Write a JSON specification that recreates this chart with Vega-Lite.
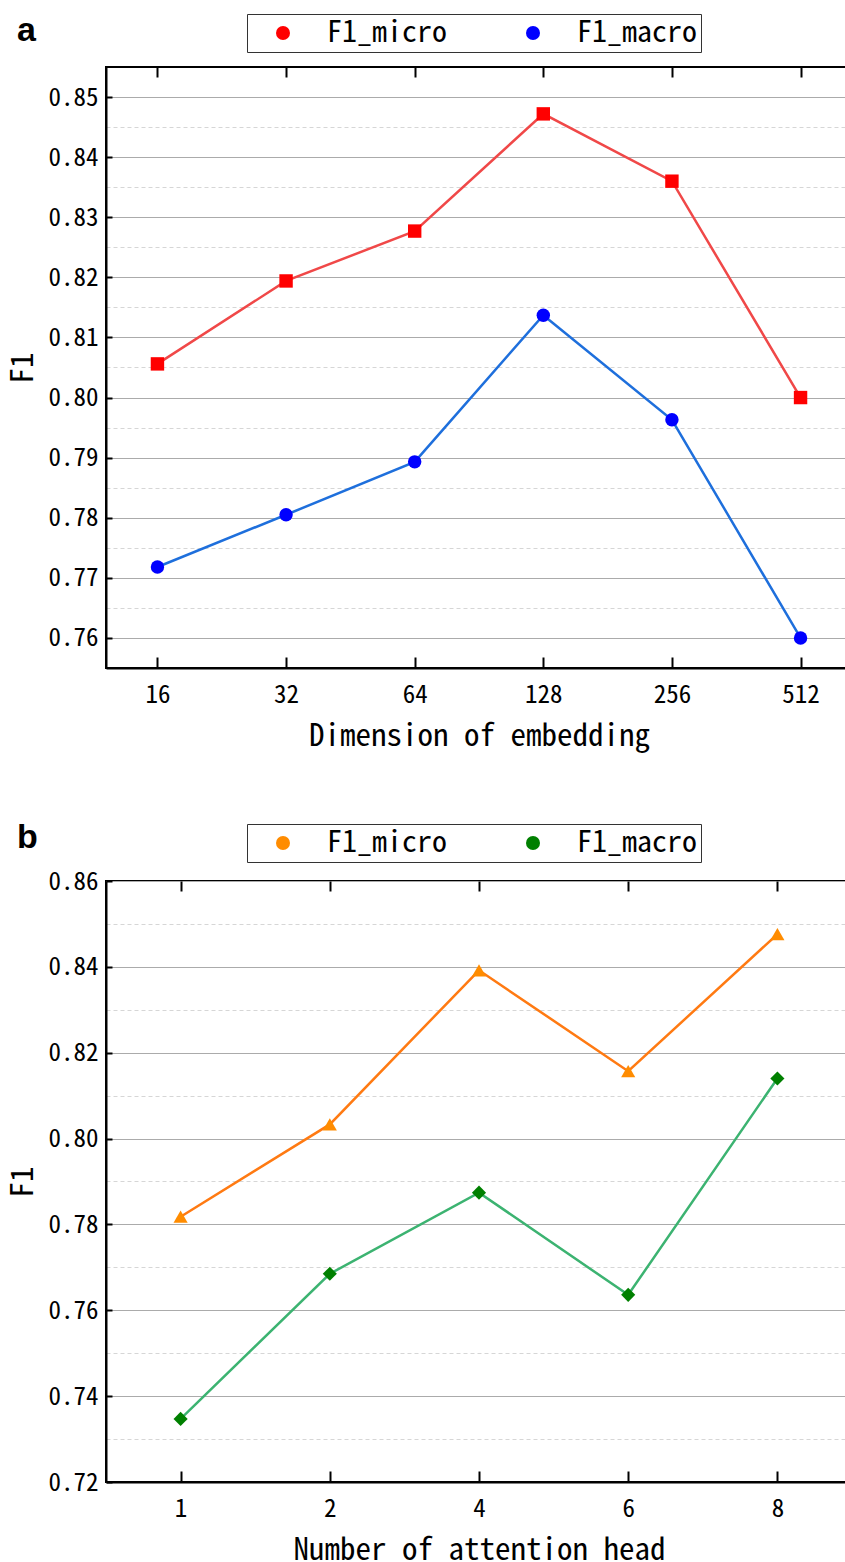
{
  "$schema": "https://vega.github.io/schema/vega-lite/v6.json",
  "padding": {"top": 12, "left": 6, "right": 0, "bottom": 0},
  "background": "white",
  "config": {
    "view": {"stroke": "black", "strokeWidth": 2},
    "font": "Noto Sans Mono CJK SC, Liberation Mono",
    "axis": {"labelFont": "Noto Sans Mono CJK SC, Liberation Mono", "titleFont": "Noto Sans Mono CJK SC, Liberation Mono", "labelColor": "black", "titleColor": "black", "titleFontWeight": "normal", "domainColor": "black", "domainWidth": 2, "tickColor": "black", "tickWidth": 2}
  },
  "datasets": {
    "a": [
      {"x": "16", "series": "F1_micro", "f1": 0.8056}, {"x": "32", "series": "F1_micro", "f1": 0.8194},
      {"x": "64", "series": "F1_micro", "f1": 0.8277}, {"x": "128", "series": "F1_micro", "f1": 0.8472},
      {"x": "256", "series": "F1_micro", "f1": 0.836}, {"x": "512", "series": "F1_micro", "f1": 0.8},
      {"x": "16", "series": "F1_macro", "f1": 0.7718}, {"x": "32", "series": "F1_macro", "f1": 0.7805},
      {"x": "64", "series": "F1_macro", "f1": 0.7893}, {"x": "128", "series": "F1_macro", "f1": 0.8137},
      {"x": "256", "series": "F1_macro", "f1": 0.7963}, {"x": "512", "series": "F1_macro", "f1": 0.76}
    ],
    "b": [
      {"x": "1", "series": "F1_micro", "f1": 0.7818}, {"x": "2", "series": "F1_micro", "f1": 0.8033},
      {"x": "4", "series": "F1_micro", "f1": 0.8392}, {"x": "6", "series": "F1_micro", "f1": 0.8157},
      {"x": "8", "series": "F1_micro", "f1": 0.8476},
      {"x": "1", "series": "F1_macro", "f1": 0.7347}, {"x": "2", "series": "F1_macro", "f1": 0.7685},
      {"x": "4", "series": "F1_macro", "f1": 0.7874}, {"x": "6", "series": "F1_macro", "f1": 0.7636},
      {"x": "8", "series": "F1_macro", "f1": 0.814}
    ]
  },
  "spacing": 67,
  "resolve": {"scale": {"color": "independent", "fill": "independent", "shape": "independent"}},
  "vconcat": [
    {
      "width": 746,
      "height": 601,
      "data": {"name": "a"},
      "title": {"text": "a", "anchor": "start", "frame": "group", "dx": -89, "offset": -61, "baseline": "alphabetic", "font": "Liberation Sans", "fontWeight": "bold", "fontSize": 34, "color": "black"},
      "encoding": {
        "y": {"field": "f1", "type": "quantitative", "scale": {"domain": [0.755, 0.855], "nice": false, "zero": false},
          "axis": {"title": "F1", "titleFontSize": 31, "titlePadding": 8, "labelFontSize": 25, "format": ".2f", "tickSize": -6, "labelPadding": 14,
            "values": [0.76, 0.765, 0.77, 0.775, 0.78, 0.785, 0.79, 0.795, 0.8, 0.805, 0.81, 0.815, 0.82, 0.825, 0.83, 0.835, 0.84, 0.845, 0.85],
            "labelExpr": "round(datum.value*1000) % 10 == 5 ? '' : datum.label",
            "grid": true,
            "gridColor": {"condition": {"test": "round(datum.value*1000) % 10 == 5", "value": "#d6d6d6"}, "value": "#ababab"},
            "gridDash": {"condition": {"test": "round(datum.value*1000) % 10 == 5", "value": [4, 3]}, "value": []},
            "tickOpacity": {"condition": {"test": "round(datum.value*1000) % 10 == 5", "value": 0}, "value": 1}}}
      },
      "layer": [
        {
          "mark": {"type": "line", "strokeWidth": 2.5},
          "encoding": {
            "x": {"field": "x", "type": "ordinal", "sort": ["16", "32", "64", "128", "256", "512"], "scale": {"type": "point", "padding": 0.4},
              "axis": {"orient": "bottom", "labelAngle": 0, "labelFontSize": 25, "tickSize": -11, "labelPadding": 25, "title": "Dimension of embedding", "titleFontSize": 31, "titlePadding": 14, "grid": false}},
            "color": {"field": "series", "type": "nominal", "sort": ["F1_micro", "F1_macro"], "scale": {"range": ["#f04848", "#1e6fdc"]}, "legend": null}
          }
        },
        {
          "mark": {"type": "point", "filled": true, "size": 180, "opacity": 1},
          "encoding": {
            "x": {"field": "x", "type": "ordinal", "sort": ["16", "32", "64", "128", "256", "512"],
              "axis": {"orient": "top", "labels": false, "domain": false, "tickSize": -10, "title": null, "grid": false}},
            "fill": {"field": "series", "type": "nominal", "scale": {"domain": ["F1_micro", "F1_macro"], "range": ["#ff0000", "#0000ff"]},
              "legend": {"orient": "none", "legendX": 141, "legendY": -53, "direction": "horizontal", "title": null,
                "strokeColor": "#333333", "padding": 4, "labelFont": "Noto Sans Mono CJK SC, Liberation Mono", "labelFontSize": 30, "labelColor": "black",
                "symbolSize": 196, "symbolOffset": 17, "labelOffset": 29, "columnPadding": 54,
                "encode": {"symbols": {
                  "shape": {"value": {"expr": "datum.value === 'F1_micro' ? 'M-4.7,0 L4.7,0 M-1,-1 L1,-1 L1,1 L-1,1 Z' : 'M-4.7,0 L4.7,0 M1,0 C1,0.552 0.552,1 0,1 C-0.552,1 -1,0.552 -1,0 C-1,-0.552 -0.552,-1 0,-1 C0.552,-1 1,-0.552 1,0 Z'"}},
                  "stroke": {"value": {"expr": "datum.value === 'F1_micro' ? '#f04848' : '#1e6fdc'"}},
                  "strokeWidth": {"value": 2.5},
                  "opacity": {"value": 1}
                }}}},
            "shape": {"field": "series", "type": "nominal", "sort": ["F1_micro", "F1_macro"], "scale": {"range": ["square", "circle"]}, "legend": null}
          }
        }
      ],
      "resolve": {"axis": {"x": "independent"}}
    },
    {
      "width": 746,
      "height": 601,
      "data": {"name": "b"},
      "title": {"text": "b", "anchor": "start", "frame": "group", "dx": -89, "offset": -58, "baseline": "alphabetic", "font": "Liberation Sans", "fontWeight": "bold", "fontSize": 34, "color": "black"},
      "encoding": {
        "y": {"field": "f1", "type": "quantitative", "scale": {"domain": [0.72, 0.86], "nice": false, "zero": false},
          "axis": {"title": "F1", "titleFontSize": 31, "titlePadding": 8, "labelFontSize": 25, "format": ".2f", "tickSize": -6, "labelPadding": 14,
            "values": [0.72, 0.73, 0.74, 0.75, 0.76, 0.77, 0.78, 0.79, 0.8, 0.81, 0.82, 0.83, 0.84, 0.85, 0.86],
            "labelExpr": "round(datum.value*100) % 2 == 1 ? '' : datum.label",
            "grid": true,
            "gridColor": {"condition": {"test": "round(datum.value*100) % 2 == 1", "value": "#d6d6d6"}, "value": "#ababab"},
            "gridDash": {"condition": {"test": "round(datum.value*100) % 2 == 1", "value": [4, 3]}, "value": []},
            "tickOpacity": {"condition": {"test": "round(datum.value*100) % 2 == 1", "value": 0}, "value": 1}}}
      },
      "layer": [
        {
          "mark": {"type": "line", "strokeWidth": 2.5},
          "encoding": {
            "x": {"field": "x", "type": "ordinal", "sort": ["1", "2", "4", "6", "8"], "scale": {"type": "point", "padding": 0.5},
              "axis": {"orient": "bottom", "labelAngle": 0, "labelFontSize": 25, "tickSize": -11, "labelPadding": 25, "title": "Number of attention head", "titleFontSize": 31, "titlePadding": 14, "grid": false}},
            "color": {"field": "series", "type": "nominal", "sort": ["F1_micro", "F1_macro"], "scale": {"range": ["#ff7a12", "#3cb371"]}, "legend": null}
          }
        },
        {
          "mark": {"type": "point", "filled": true, "size": 200, "opacity": 1},
          "encoding": {
            "x": {"field": "x", "type": "ordinal", "sort": ["1", "2", "4", "6", "8"],
              "axis": {"orient": "top", "labels": false, "domain": false, "tickSize": -10, "title": null, "grid": false}},
            "fill": {"field": "series", "type": "nominal", "scale": {"domain": ["F1_micro", "F1_macro"], "range": ["#ff8c00", "#008000"]},
              "legend": {"orient": "none", "legendX": 141, "legendY": -57, "direction": "horizontal", "title": null,
                "strokeColor": "#333333", "padding": 4, "labelFont": "Noto Sans Mono CJK SC, Liberation Mono", "labelFontSize": 30, "labelColor": "black",
                "symbolSize": 196, "symbolOffset": 17, "labelOffset": 29, "columnPadding": 54,
                "encode": {"symbols": {
                  "shape": {"value": {"expr": "datum.value === 'F1_micro' ? 'M-4.7,0.2 L4.7,0.2 M0,-1.1 L1.1,0.8 L-1.1,0.8 Z' : 'M-4.7,0 L4.7,0 M0,-1.35 L0.95,0 L0,1.35 L-0.95,0 Z'"}},
                  "stroke": {"value": {"expr": "datum.value === 'F1_micro' ? '#ff7a12' : '#3cb371'"}},
                  "strokeWidth": {"value": 2.5},
                  "opacity": {"value": 1}
                }}}},
            "shape": {"field": "series", "type": "nominal", "sort": ["F1_micro", "F1_macro"], "scale": {"range": ["triangle-up", "diamond"]}, "legend": null}
          }
        }
      ],
      "resolve": {"axis": {"x": "independent"}}
    }
  ]
}
